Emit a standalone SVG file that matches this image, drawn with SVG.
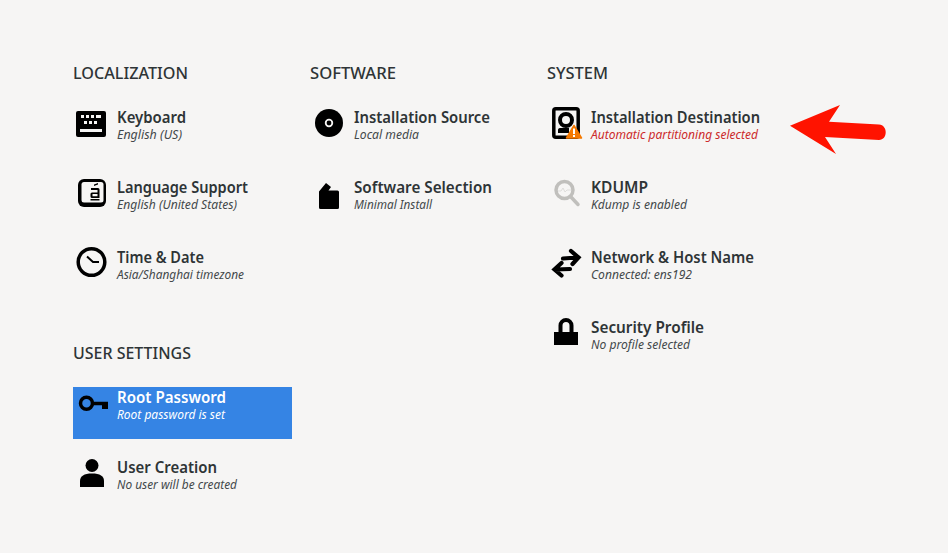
<svg xmlns="http://www.w3.org/2000/svg" width="948" height="553" viewBox="0 0 948 553">
<style>
text{font-family:"Noto Sans","Liberation Sans",sans-serif;fill:#2e3436}
.h{font-size:15.5px;font-weight:500}
.t{font-size:15.5px;font-weight:600}
.s{font-size:12px;font-style:italic;font-weight:400;fill:#43484a}
.s.w{fill:#fff}
.s.r{fill:#cc2a2a}
.w{fill:#fff}
</style>
<rect width="948" height="553" fill="#f6f5f4"/>
<g id="headings">
<text class="h" x="73" y="78.500" textLength="115" lengthAdjust="spacingAndGlyphs">LOCALIZATION</text>
<text class="h" x="310" y="78.500" textLength="86" lengthAdjust="spacingAndGlyphs">SOFTWARE</text>
<text class="h" x="547" y="78.500" textLength="61" lengthAdjust="spacingAndGlyphs">SYSTEM</text>
<text class="h" x="73" y="358.500" textLength="118" lengthAdjust="spacingAndGlyphs">USER SETTINGS</text>
</g>
<g id="keyboard">
<rect x="76" y="111" width="30" height="26" rx="2"/>
<path fill="#f6f5f4" d="M81 115h3v3h-3zM86 115h3v3h-3zM91 115h3v3h-3zM96 115h5v3h-5zM84 121h3v3h-3zM89 121h3v3h-3zM94 121h3v3h-3zM80 129h22v3h-22z"/>
<text class="t" x="117" y="122.500" textLength="69" lengthAdjust="spacingAndGlyphs">Keyboard</text>
<text class="s" x="117" y="139" textLength="65" lengthAdjust="spacingAndGlyphs">English (US)</text>
</g>
<g id="language">
<rect x="78" y="179" width="28" height="28" rx="6"/>
<path fill="#f6f5f4" d="M84 182h17a2.500 2.500 0 0 1 2.500 2.500V200a2.500 2.500 0 0 1-2.500 2.500H84a2.500 2.500 0 0 1-2.500-2.500V184.500a2.500 2.500 0 0 1 2.500-2.500z"/>
<path d="M94 184.500l4-1.500v1.500l-4 1.500zM91 188h7a1.500 1.500 0 0 1 1.500 1.500V198H92a1.500 1.500 0 0 1-1.500-1.500v-2.500a1.500 1.500 0 0 1 1.500-1.500h5.500v-2.500H91zM92.500 194v2.200h5V194z"/>
<path d="M90.500 199h9v1.500h-9z"/>
<text class="t" x="117" y="192.500" textLength="131" lengthAdjust="spacingAndGlyphs">Language Support</text>
<text class="s" x="117" y="209" textLength="120" lengthAdjust="spacingAndGlyphs">English (United States)</text>
</g>
<g id="time">
<circle cx="91.500" cy="262" r="13.300" fill="none" stroke="#000" stroke-width="3.500"/>
<path d="M87 256.500l6 5.500h6" fill="none" stroke="#000" stroke-width="2"/>
<text class="t" x="117" y="262.500" textLength="87" lengthAdjust="spacingAndGlyphs">Time &amp; Date</text>
<text class="s" x="117" y="279" textLength="127" lengthAdjust="spacingAndGlyphs">Asia/Shanghai timezone</text>
</g>
<g id="root">
<rect x="73" y="387" width="219" height="52" fill="#3584e4"/>
<circle cx="86.500" cy="403.300" r="6" fill="none" stroke="#000" stroke-width="3.500"/>
<path d="M92 401.700h16v7.300h-6v-3.800h-10z"/>
<text class="t w" x="117" y="402.500" textLength="109" lengthAdjust="spacingAndGlyphs">Root Password</text>
<text class="s w" x="117" y="419" textLength="108" lengthAdjust="spacingAndGlyphs">Root password is set</text>
</g>
<g id="user">
<circle cx="92" cy="465.500" r="6.500"/>
<path d="M80 487v-6c0-5 4-7.500 12-7.500s12 2.500 12 7.500v6z"/>
<text class="t" x="117" y="472.500" textLength="100" lengthAdjust="spacingAndGlyphs">User Creation</text>
<text class="s" x="117" y="489" textLength="120" lengthAdjust="spacingAndGlyphs">No user will be created</text>
</g>
<g id="source">
<circle cx="329" cy="123" r="14"/>
<circle cx="329" cy="123" r="3.300" fill="none" stroke="#f6f5f4" stroke-width="1.800"/>
<text class="t" x="354" y="122.500" textLength="136" lengthAdjust="spacingAndGlyphs">Installation Source</text>
<text class="s" x="354" y="139" textLength="65" lengthAdjust="spacingAndGlyphs">Local media</text>
</g>
<g id="selection">
<path d="M319 191.500l7-8.500 5 4-2.500 3.500h9a1.500 1.500 0 0 1 1.500 1.500v15.500a1.500 1.500 0 0 1-1.500 1.500h-17a1.500 1.500 0 0 1-1.500-1.500z"/>
<text class="t" x="354" y="192.500" textLength="138" lengthAdjust="spacingAndGlyphs">Software Selection</text>
<text class="s" x="354" y="209" textLength="78" lengthAdjust="spacingAndGlyphs">Minimal Install</text>
</g>
<g id="destination">
<rect x="553.800" y="108.800" width="24.400" height="28.400" rx="2" fill="none" stroke="#000" stroke-width="3.500"/>
<path d="M558 133v-3c0-1.500 1-2 3-2h8v5z"/>
<circle cx="566" cy="120" r="6" fill="#f6f5f4" stroke="#000" stroke-width="4"/>
<path d="M574 125.500l7.500 12.500h-15z" fill="#f57900" stroke="#f57900" stroke-width="1.500" stroke-linejoin="round"/>
<path d="M573 128.500h2v5.500h-2zM573 135h2v2h-2z" fill="#fff"/>
<text class="t" x="591" y="122.500" textLength="169" lengthAdjust="spacingAndGlyphs">Installation Destination</text>
<text class="s r" x="591" y="139" textLength="167" lengthAdjust="spacingAndGlyphs">Automatic partitioning selected</text>
</g>
<g id="kdump">
<circle cx="564.500" cy="190" r="8.500" fill="none" stroke="#c0bfbc" stroke-width="3.500"/>
<path d="M558 191h3l2-3 2 4 2-2h4" fill="none" stroke="#dedddb" stroke-width="1"/>
<path d="M571 197l7 7.500" stroke="#c0bfbc" stroke-width="3.500" stroke-linecap="round"/>
<text class="t" x="591" y="192.500" textLength="57" lengthAdjust="spacingAndGlyphs">KDUMP</text>
<text class="s" x="591" y="209" textLength="96" lengthAdjust="spacingAndGlyphs">Kdump is enabled</text>
</g>
<g id="network">
<path d="M577 257.500l-14 1M571 251l7.500 6.500-6 6.500M555 269.500l15-.5M561.500 263l-7 6.500 7 6" fill="none" stroke="#000" stroke-width="4.200" stroke-linecap="round" stroke-linejoin="miter"/>
<text class="t" x="591" y="262.500" textLength="163" lengthAdjust="spacingAndGlyphs">Network &amp; Host Name</text>
<text class="s" x="591" y="279" textLength="101" lengthAdjust="spacingAndGlyphs">Connected: ens192</text>
</g>
<g id="security">
<path d="M560.500 333v-7.500a5.500 5.500 0 0 1 11 0v7.500" fill="none" stroke="#000" stroke-width="4"/>
<rect x="554" y="332" width="24" height="13"/>
<text class="t" x="591" y="332.500" textLength="113" lengthAdjust="spacingAndGlyphs">Security Profile</text>
<text class="s" x="591" y="349" textLength="99" lengthAdjust="spacingAndGlyphs">No profile selected</text>
</g>
<g id="connectors">
<path d="M790 125.700l50-20.700-11 16.700 50 2.800c9 .5 9 15.500 0 15.500l-54-3 11 17z" fill="#ff1300"/>
</g>
</svg>
